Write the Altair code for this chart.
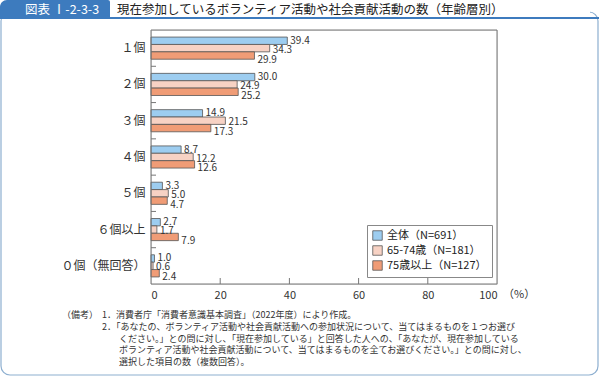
import altair as alt
import pandas as pd

categories = ["１個", "２個", "３個", "４個", "５個", "６個以上", "０個（無回答）"]
series = ["全体（N=691）", "65-74歳（N=181）", "75歳以上（N=127）"]
v_all = [39.4, 30.0, 14.9, 8.7, 3.3, 2.7, 1.0]
v_65 = [34.3, 24.9, 21.5, 12.2, 5.0, 1.7, 0.6]
v_75 = [29.9, 25.2, 17.3, 12.6, 4.7, 7.9, 2.4]
x_ticks = [0, 20, 40, 60, 80, 100]
boundaries = [1, 2, 3, 4, 5, 6]

title_tab = "図表 Ⅰ-2-3-3"
title_text = "現在参加しているボランティア活動や社会貢献活動の数（年齢層別）"
note_head = "（備考）"
notes = [
    "1．消費者庁「消費者意識基本調査」（2022年度）により作成。",
    "2．「あなたの、ボランティア活動や社会貢献活動への参加状況について、当てはまるものを１つお選び",
    "ください。」との問に対し、「現在参加している」と回答した人への、「あなたが、現在参加している",
    "ボランティア活動や社会貢献活動について、当てはまるものを全てお選びください。」との問に対し、",
    "選択した項目の数（複数回答）。",
]

colors = ["#9DCDF0", "#F7D2C4", "#F09C76"]
FONT = "Noto Sans CJK JP"

rows = []
for s, vals in zip(series, [v_all, v_65, v_75]):
    for c, v in zip(categories, vals):
        rows.append({"cat": c, "series": s, "value": v})
df = pd.DataFrame(rows)

W, H = 346, 254
LEFT, TOP = 151, 30

y_scale = alt.Scale(domain=categories, paddingInner=0.39, paddingOuter=0.195)
y_enc = alt.Y("cat:N", sort=categories, title=None, scale=y_scale,
              axis=alt.Axis(ticks=False, domain=False, labelFontSize=12, labelColor="#333",
                            labelPadding=6, labelFont=FONT, zindex=2))
yoff = alt.YOffset("series:N", sort=series,
                   scale=alt.Scale(domain=series, paddingInner=0, paddingOuter=0))
x_enc = alt.X("value:Q", title=None,
              scale=alt.Scale(domain=[0, 100], nice=False),
              axis=alt.Axis(values=x_ticks, ticks=False, domain=False, grid=False,
                            labelFontSize=11, labelColor="#333", labelPadding=5,
                            labelFont=FONT, zindex=2))

base = alt.Chart(df)

bars = base.mark_bar(stroke="#555", strokeWidth=0.8).encode(
    y=y_enc, yOffset=yoff, x=x_enc,
    color=alt.Color("series:N", sort=series,
                    scale=alt.Scale(domain=series, range=colors),
                    legend=alt.Legend(title=None, orient="none", legendX=216, legendY=195,
                                      symbolType="square", symbolSize=90,
                                      symbolStrokeColor="#555", symbolStrokeWidth=0.8,
                                      labelFontSize=11, labelColor="#222", labelFont=FONT,
                                      padding=5, rowPadding=2, strokeColor="#888",
                                      fillColor="white", symbolOpacity=1, zindex=2)),
)

label_layers = []
for s, d in zip(series, [0, 1.5, 4]):
    label_layers.append(
        base.transform_filter(alt.datum.series == s)
        .mark_text(align="left", baseline="middle", dx=3, dy=d, fontSize=10,
                   color="#333", font=FONT)
        .encode(y=alt.Y("cat:N", sort=categories, scale=y_scale, axis=None), yOffset=yoff,
                x="value:Q", text=alt.Text("value:Q", format=".1f"))
    )

one = alt.Chart(alt.Data(values=[{"k": 0}]))

plot_border = one.mark_rect(fillOpacity=0, stroke="#777", strokeWidth=1).encode(
    x=alt.value(0), x2=alt.value(W), y=alt.value(0), y2=alt.value(H))

xticks = alt.Chart(pd.DataFrame({"xt": x_ticks[1:-1]})).mark_rule(
    color="#777", strokeWidth=1).encode(
    x="xt:Q", y=alt.value(H - 6), y2=alt.value(H))

yticks = alt.Chart(pd.DataFrame({"b": boundaries})).mark_rule(
    color="#777", strokeWidth=1).encode(
    y=alt.Y("b:Q", scale=alt.Scale(domain=[0, 7]), axis=None),
    x=alt.value(0), x2=alt.value(5))

pct = alt.Chart(pd.DataFrame({"v": [100]})).mark_text(
    align="left", baseline="middle", dx=6, fontSize=11, color="#333", font=FONT).encode(
    x="v:Q", y=alt.value(H + 11), text=alt.value("（%）"))

frame = one.mark_rect(fillOpacity=0, stroke="#8DAFD0", strokeWidth=1.2, cornerRadius=9).encode(
    x=alt.value(1 - LEFT), x2=alt.value(598 - LEFT),
    y=alt.value(12 - TOP), y2=alt.value(375 - TOP))
header_white = one.mark_rect(fill="white").encode(
    x=alt.value(110 - LEFT), x2=alt.value(590 - LEFT),
    y=alt.value(0 - TOP), y2=alt.value(17 - TOP))
header_line = one.mark_rect(fill="#3D7BBE").encode(
    x=alt.value(0 - LEFT), x2=alt.value(599 - LEFT),
    y=alt.value(17 - TOP), y2=alt.value(19 - TOP))
tab = one.mark_rect(fill="#3D7BBE", cornerRadiusTopLeft=7, cornerRadiusTopRight=2).encode(
    x=alt.value(0 - LEFT), x2=alt.value(110 - LEFT),
    y=alt.value(0 - TOP), y2=alt.value(19 - TOP))
tab_text = one.mark_text(align="left", baseline="middle", fontSize=12.5, color="white",
                         font=FONT).encode(
    x=alt.value(25 - LEFT), y=alt.value(10 - TOP), text=alt.value(title_tab))
title_mark = one.mark_text(align="left", baseline="middle", fontSize=12.5, color="#222",
                           font=FONT).encode(
    x=alt.value(117 - LEFT), y=alt.value(10 - TOP), text=alt.value(title_text))

note_rows = [{"t": note_head, "x": 62 - LEFT, "y": 315 - TOP}]
note_x = [102, 102, 119, 119, 119]
for i, (t, nx) in enumerate(zip(notes, note_x)):
    note_rows.append({"t": t, "x": nx - LEFT, "y": 315 - TOP + i * 11.8})
note_layers = [
    one.mark_text(align="left", baseline="middle", fontSize=9, color="#333", font=FONT).encode(
        x=alt.value(r["x"]), y=alt.value(r["y"]), text=alt.value(r["t"]))
    for r in note_rows
]

chart = alt.layer(
    frame, header_white, header_line, tab, tab_text, title_mark,
    *note_layers,
    bars, *label_layers, xticks, yticks, plot_border, pct,
).resolve_scale(y="independent").properties(
    width=W, height=H,
    autosize=alt.AutoSizeParams(type="none"),
    padding={"left": LEFT, "top": TOP, "right": 600 - LEFT - W, "bottom": 377 - TOP - H},
    background="white",
).configure_view(stroke=None).configure(font=FONT)

chart.save("out.html", embed_options={"renderer": "svg", "actions": False})
